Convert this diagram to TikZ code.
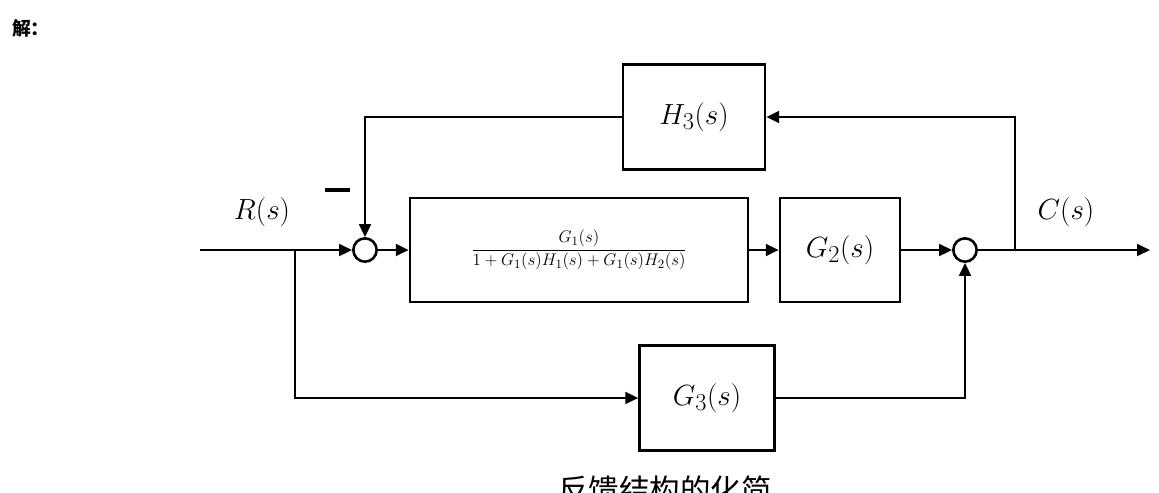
\documentclass[tikz,border=0pt]{standalone}
\usepackage{fontspec}
\newfontfamily\cjk{Noto Sans CJK SC}
\usetikzlibrary{arrows.meta}
\begin{document}
\begin{tikzpicture}[x=0.03cm,y=-0.03cm,
  blk/.style={draw,line width=2.2pt,inner sep=0pt},
  sum/.style={draw,circle,line width=2.2pt,minimum size=0.7cm,inner sep=0pt},
  ln/.style={line width=2.2pt},
  ar/.style={ln,-{Triangle[length=11pt,width=10pt]}},
  big/.style={font=\fontsize{28}{32}\selectfont}]
\useasboundingbox (0,0) rectangle (1159,492);
\node[font=\cjk\fontsize{16}{18}\selectfont\bfseries,anchor=west] (jie) at (8,28) {解：};
\node[blk,minimum width=338*0.03cm,minimum height=104*0.03cm] (F) at (579,250) {};
\node[font=\fontsize{15}{17}\selectfont] (Ft) at (579,250) {$\displaystyle\frac{G_1(s)}{1+G_1(s)H_1(s)+G_1(s)H_2(s)}$};
\node[blk,minimum width=120*0.03cm,minimum height=104*0.03cm,big] (G2) at (840,250) {$G_2(s)$};
\node[blk,minimum width=142*0.03cm,minimum height=105*0.03cm,big] (H3) at (694,117) {$H_3(s)$};
\node[blk,minimum width=135*0.03cm,minimum height=105*0.03cm,big] (G3) at (707,398) {$G_3(s)$};
\node[sum] (S1) at (365,250) {};
\node[sum] (S2) at (965,250) {};
\coordinate (in) at (200,250);
\coordinate (br) at (295,250);
\coordinate (tp) at (1015,250);
\coordinate (out) at (1150,250);
\draw[ar] (in) -- (S1);
\draw[ar] (S1) -- (F);
\draw[ar] (F) -- (G2);
\draw[ar] (G2) -- (S2);
\draw[ar] (S2) -- (out);
\draw[ar] (tp) |- (H3);
\draw[ar] (H3.west) -| (S1.north);
\draw[ar] (br) |- (G3);
\draw[ar] (G3.east) -| (S2.south);
\node[big] (R) at (262,212) {$R(s)$};
\draw[ln,line width=3pt] (325,190) -- (350,190);
\node[big] (C) at (1066,212) {$C(s)$};
\node[font=\cjk\fontsize{26}{30}\selectfont] (cap) at (665,490) {反馈结构的化简};
\end{tikzpicture}
\end{document}
